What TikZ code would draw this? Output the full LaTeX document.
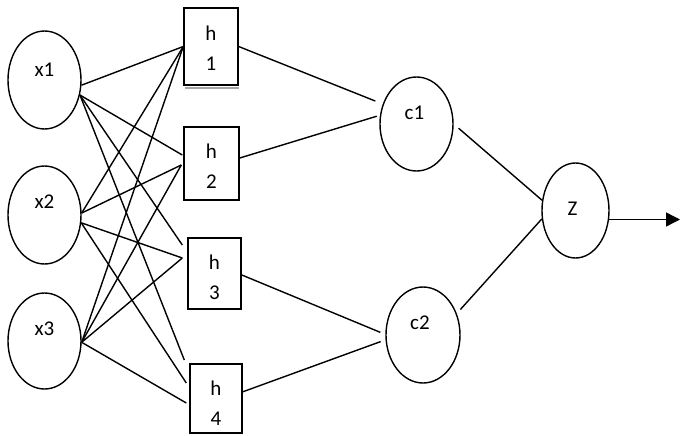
\documentclass[tikz,border=0pt]{standalone}
\usepackage{fontspec}
\setmainfont{Carlito}
\usetikzlibrary{arrows.meta,calc,shapes.geometric}
\tikzset{
  neuron/.style={draw, ellipse, line width=1.4pt, inner sep=0pt},
  hbox/.style={draw, rectangle, line width=1.4pt, inner sep=0pt},
  conn/.style={line width=1.4pt},
  lab/.style={font=\fontsize{21}{24}\selectfont, inner sep=0pt},
  hlab/.style={font=\fontsize{21}{30}\selectfont, align=center, inner sep=0pt}}
\begin{document}
\begin{tikzpicture}[x=1pt,y=-1pt]
\useasboundingbox (0,0) rectangle (680,436);
% input neurons
\node[neuron, minimum width=73pt, minimum height=98pt,
  label={[lab,yshift=10pt]center:x1}] (x1) at (44.5,80) {};
\node[neuron, minimum width=73pt, minimum height=98pt,
  label={[lab,yshift=13pt]center:x2}] (x2) at (44.5,215) {};
\node[neuron, minimum width=73pt, minimum height=96pt,
  label={[lab,yshift=12pt]center:x3}] (x3) at (44.5,341) {};
% hidden boxes
\node[hbox, minimum width=54pt, minimum height=77pt,
  label={[hlab,yshift=-2pt]center:{h\\1}}] (h1) at (211,46.5) {};
\node[hbox, minimum width=55pt, minimum height=73pt,
  label={[hlab,yshift=-3pt]center:{h\\2}}] (h2) at (211.5,163.5) {};
\node[hbox, minimum width=53pt, minimum height=71pt,
  label={[hlab,yshift=-4pt]center:{h\\3}}] (h3) at (214.5,273.5) {};
\node[hbox, minimum width=52pt, minimum height=69pt,
  label={[hlab,yshift=-5pt]center:{h\\4}}] (h4) at (216,398.5) {};
\draw[gray!70, line width=2pt] ($(h1.south west)+(1.5,2.2)$) -- ($(h1.south east)+(0,2.2)$);
% combination neurons
\node[neuron, minimum width=73pt, minimum height=94pt,
  label={[lab,yshift=11pt,xshift=-2pt]center:c1}] (c1) at (416.5,124) {};
\node[neuron, minimum width=74pt, minimum height=96pt,
  label={[lab,yshift=12pt,xshift=-3pt]center:c2}] (c2) at (423,335) {};
\node[neuron, minimum width=67pt, minimum height=95pt,
  label={[lab,yshift=2pt,xshift=-3pt]center:Z}] (Z) at (575.5,210.5) {};
\coordinate (outx) at (680,0);
% input -> hidden
\draw[conn] (x1.-8) -- (h1.west);
\draw[conn] (x1.-23) -- ($(h2.west)+(-1,-8.5)$);
\draw[conn] (x1.-23) -- ($(h3.west)+(-5,-28.5)$);
\draw[conn] (x1.-23) -- ($(h4.west)+(-5,-38.5)$);
\draw[conn] (x2.3) -- (h1.west);
\draw[conn] (x2.3) -- ($(h2.west)+(-2,1.5)$);
\draw[conn] (x2.-12) -- ($(h3.west)+(-5,-15.5)$);
\draw[conn] (x2.-12) -- ($(h4.west)+(-3,-15.5)$);
\draw[conn] (x3.-2) -- (h1.west);
\draw[conn] (x3.-2) -- ($(h2.west)+(-2,1.5)$);
\draw[conn] (x3.-2) -- ($(h3.west)+(-5,-15.5)$);
\draw[conn] (x3.-2) -- ($(h4.west)+(-3,4.5)$);
% hidden -> combination
\draw[conn] (h1.east) -- ($(c1.151)+(-7,-4)$);
\draw[conn] (h2.11) -- ($(c1.168)+(-3,0)$);
\draw[conn] (h3.-3) -- ($(c2.176)+(-5,0)$);
\draw[conn] (h4.14) -- ($(c2.190)+(-5,0)$);
% combination -> output
\draw[conn] ($(c1.-5)+(5,1)$) -- (Z.163);
\draw[conn] ($(c2.34)+(4,-3)$) -- (Z.194);
\draw[conn, -{Triangle[length=14pt,width=14pt]}] (Z.-15) -- (Z.-15 -| outx);
\end{tikzpicture}
\end{document}
